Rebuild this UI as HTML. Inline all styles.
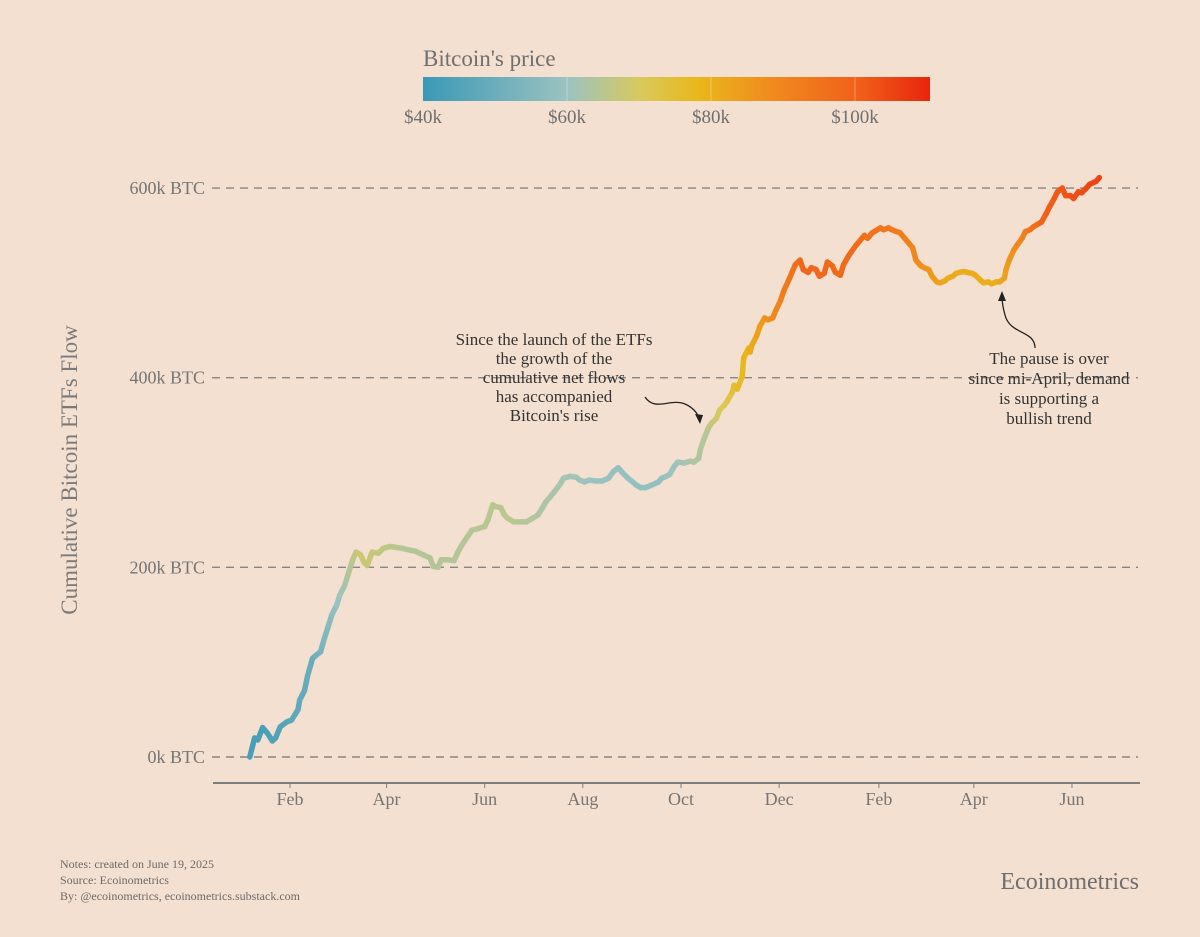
<!DOCTYPE html>
<html><head><meta charset="utf-8">
<style>
html,body{margin:0;padding:0;background:#f4e0d1;}
svg{display:block;font-family:"Liberation Serif",serif;}
</style></head>
<body>
<svg id="chart" width="1200" height="937" viewBox="0 0 1200 937">
  <rect width="1200" height="937" fill="#f4e0d1"/>
  <defs>
    <linearGradient id="pg" x1="0" x2="1" y1="0" y2="0">
      <stop offset="0" stop-color="#3a98b6"/>
      <stop offset="0.286" stop-color="#9cc3c0"/>
      <stop offset="0.43" stop-color="#d9c95c"/>
      <stop offset="0.54" stop-color="#e8b81c"/>
      <stop offset="0.69" stop-color="#f08a1e"/>
      <stop offset="0.86" stop-color="#f0601a"/>
      <stop offset="1" stop-color="#e8250c"/>
    </linearGradient>
  </defs>
  <g>
    <text x="423" y="66" font-size="23" fill="#6f6f6f">Bitcoin's price</text>
    <rect x="423" y="77" width="507" height="24" fill="url(#pg)"/>
    <g id="legendTicks"></g>
  </g>
  <g id="grid"></g>
  <g id="xaxis"></g>
  <text transform="translate(77,470) rotate(-90)" text-anchor="middle" font-size="23" fill="#7a7a7a">Cumulative Bitcoin ETFs Flow</text>
  <g id="series"></g>
  <g font-size="17" fill="#333" text-anchor="middle">
    <text x="554" y="345">Since the launch of the ETFs</text>
    <text x="554" y="364">the growth of the</text>
    <text x="554" y="383">cumulative net flows</text>
    <text x="554" y="402">has accompanied</text>
    <text x="554" y="421">Bitcoin's rise</text>
    <path d="M645,397 C655,412 670,398 685,404 C694,408 698,414 700,420" fill="none" stroke="#222" stroke-width="1.3"/>
    <path d="M700,424 L695,414 L703,415 Z" fill="#222"/>
  </g>
  <g font-size="17" fill="#333" text-anchor="middle">
    <text x="1049" y="364">The pause is over</text>
    <text x="1049" y="384">since mi-April, demand</text>
    <text x="1049" y="404">is supporting a</text>
    <text x="1049" y="424">bullish trend</text>
    <path d="M1035,348 C1035,330 1010,335 1005,315 C1003,308 1002,302 1002,296" fill="none" stroke="#222" stroke-width="1.3"/>
    <path d="M1002,291 L998,301 L1006,301 Z" fill="#222"/>
  </g>
  <g font-size="12" fill="#6a6a6a">
    <text x="60" y="868">Notes: created on June 19, 2025</text>
    <text x="60" y="884">Source: Ecoinometrics</text>
    <text x="60" y="900">By: @ecoinometrics, ecoinometrics.substack.com</text>
  </g>
  <text x="1139" y="889" text-anchor="end" font-size="24" fill="#6e6e6e">Ecoinometrics</text>
</svg>
<script>
// day index since 2024-01-01
const days = [6,9,11,14,17,20,22,25,29,32,36,37,40,42,45,47,50,52,55,57,60,62,65,67,70,72,75,77,79,82,86,89,93,97,101,106,109,114,118,120,123,125,129,133,135,138,142,144,148,152,154,157,159,162,164,166,170,174,178,181,185,188,190,193,195,199,201,205,209,211,214,217,221,225,229,232,235,237,241,244,246,249,252,256,260,262,265,267,270,272,276,280,282,285,286,288,291,293,296,298,301,303,306,307,309,312,313,316,317,318,321,323,326,328,331,333,336,338,341,343,345,348,350,353,355,358,360,363,365,368,370,373,375,378,380,383,385,388,390,393,395,398,400,403,405,408,410,413,415,418,420,423,425,428,430,433,435,438,440,443,445,447,450,452,455,457,460,462,465,467,470,472,475,476,478,481,483,486,488,491,493,496,498,501,503,506,508,511,513,516,518,521,523,526,528,532,534];
// cumulative flow, thousand BTC
const flows = [0,20,18,31,25,17,20,32,37,39,50,60,70,86,104,107,111,123,139,150,160,171,181,192,208,216,213,205,202,216,215,220,222,221,220,218,217,213,210,201,200,208,208,207,215,224,234,239,241,243,250,266,264,263,256,252,248,248,248,251,255,263,269,275,279,288,294,296,295,292,290,292,291,291,294,301,305,301,294,290,287,284,284,287,290,294,296,298,307,311,310,312,311,315,324,334,347,352,357,366,371,376,385,392,388,401,421,431,427,434,444,454,463,461,463,471,482,492,503,511,519,524,514,511,516,514,507,510,522,518,511,508,519,528,533,540,544,550,547,553,555,558,556,558,556,554,553,547,543,537,524,518,516,514,507,501,500,502,505,507,510,511,512,511,510,508,503,500,501,499,501,501,505,514,524,535,540,547,554,556,559,562,564,573,580,589,596,600,592,592,589,596,595,600,604,607,611];
// Bitcoin price (k$) at mid-month
const priceDays = [15,46,75,106,136,167,197,228,259,289,320,350,381,412,440,471,501,532];
const prices = [43,50,68,64,64,65,62,59,58,64,82,98,97,92,81,80,100,105];
const yTicks = [0,200,400,600];
const yTickLabels = ["0k BTC","200k BTC","400k BTC","600k BTC"];
const monthDays = [31,91,152,213,274,335,397,456,517];
const monthLabels = ["Feb","Apr","Jun","Aug","Oct","Dec","Feb","Apr","Jun"];
const legendVals = [40,60,80,100];
const legendLabels = ["$40k","$60k","$80k","$100k"];

const NS="http://www.w3.org/2000/svg";
const X = d => 290 + (d-31)*1.609;
const Y = v => 757 - v*0.9483;
const LX = p => 423 + (p-40)*7.2;
function mk(tag, attrs, parent){const e=document.createElementNS(NS,tag);for(const k in attrs)e.setAttribute(k,attrs[k]);parent.appendChild(e);return e;}

const stops=[[40,[58,152,182]],[60,[156,195,192]],[70,[217,201,92]],[78,[232,184,28]],[88,[240,138,30]],[100,[240,96,26]],[110,[232,37,12]]];
function col(p){
  if(p<=stops[0][0])return `rgb(${stops[0][1]})`;
  for(let i=1;i<stops.length;i++){if(p<=stops[i][0]){const t=(p-stops[i-1][0])/(stops[i][0]-stops[i-1][0]);const a=stops[i-1][1],b=stops[i][1];return `rgb(${a.map((v,j)=>Math.round(v+(b[j]-v)*t)).join(",")})`;}}
  return `rgb(${stops[stops.length-1][1]})`;
}
function priceAt(d){
  if(d<=priceDays[0])return prices[0];
  for(let i=1;i<priceDays.length;i++){if(d<=priceDays[i]){const t=(d-priceDays[i-1])/(priceDays[i]-priceDays[i-1]);return prices[i-1]+(prices[i]-prices[i-1])*t;}}
  return prices[prices.length-1];
}

const lt=document.getElementById('legendTicks');
legendVals.forEach((v,i)=>{
  const t=mk('text',{x:LX(v),y:123,'text-anchor':'middle','font-size':19,fill:'#6f6f6f'},lt);
  
  
  t.textContent=legendLabels[i];
  if(i>0){const l=mk('line',{x1:LX(v),x2:LX(v),y1:77,y2:101,stroke:'rgba(255,255,255,0.3)','stroke-width':1},lt);
  
  }
});

const g=document.getElementById('grid');
yTicks.forEach((v,i)=>{
  const l=mk('line',{x1:212,x2:1138,y1:Y(v),y2:Y(v),stroke:'#858585','stroke-width':1.4,'stroke-dasharray':'8 6'},g);
  
  
  const t=mk('text',{x:205,y:Y(v)+6,'text-anchor':'end','font-size':18,fill:'#757575'},g);
  
  
  t.textContent=yTickLabels[i];
});

const xa=document.getElementById('xaxis');
const ax=mk('line',{x1:213,x2:1140,y1:783,y2:783,stroke:'#7d7d7d','stroke-width':2},xa);


monthDays.forEach((d,i)=>{
  const tk=mk('line',{x1:X(d),x2:X(d),y1:783,y2:788,stroke:'#7d7d7d','stroke-width':1},xa);
  
  
  const t=mk('text',{x:X(d),y:805,'text-anchor':'middle','font-size':18,fill:'#757575'},xa);
  
  
  t.textContent=monthLabels[i];
});

const s=document.getElementById('series');
for(let i=1;i<days.length;i++){
  const p=priceAt((days[i-1]+days[i])/2);
  const seg=mk('line',{x1:X(days[i-1]),y1:Y(flows[i-1]),x2:X(days[i]),y2:Y(flows[i]),stroke:col(p),'stroke-width':5.5,'stroke-linecap':'round'},s);
  
  
}
</script>
</body></html>
